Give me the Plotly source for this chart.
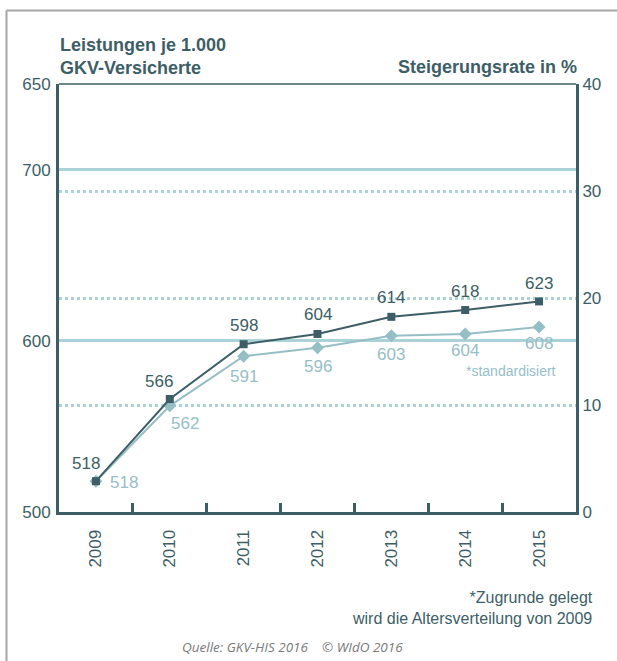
import plotly.graph_objects as go

# ---- data ----
years = ["2009", "2010", "2011", "2012", "2013", "2014", "2015"]
leistungen = [518, 566, 598, 604, 614, 618, 623]
leistungen_std = [518, 562, 591, 596, 603, 604, 608]

left_tickvals = [500, 600, 700, 750]
left_ticktext = ["500", "600", "700", "650"]
right_tickvals = [0, 10, 20, 30, 40]

DARK = "#3d5e66"
LIGHT = "#96bec5"
GRID = "#acd2d9"
FONT = "Liberation Sans, Arial, sans-serif"

W, H = 617, 661
L, R, T, B = 59, 41, 84, 149
PW, PH = W - L - R, H - T - B


def px_x(x):
    # page pixel -> paper x
    return (x - L) / PW


def px_y(y):
    # page pixel -> paper y
    return (H - B - y) / PH


fig = go.Figure()

# right axis carries only the dotted grid
fig.add_trace(
    go.Scatter(x=years, y=[None] * len(years), yaxis="y2",
               showlegend=False, hoverinfo="skip")
)

fig.add_trace(
    go.Scatter(
        x=years,
        y=leistungen_std,
        mode="lines+markers",
        line=dict(color=LIGHT, width=2),
        marker=dict(symbol="diamond", size=10, color=LIGHT),
        name="standardisiert",
        showlegend=False,
    )
)
fig.add_trace(
    go.Scatter(
        x=years,
        y=leistungen,
        mode="lines+markers",
        line=dict(color=DARK, width=2),
        marker=dict(symbol="square", size=8, color=DARK),
        name="Leistungen",
        showlegend=False,
    )
)

# value labels (dark above, light below)
dark_shift = [(-10, 18), (-11, 18), (0, 19), (0, 19), (0, 19), (0, 18), (0, 18)]
light_shift = [(28, -1), (15, -18), (0, -20), (0, -19), (0, -19), (0, -17), (0, -16)]
for i in range(len(years)):
    fig.add_annotation(
        x=i, y=leistungen[i], text=str(leistungen[i]), showarrow=False,
        xshift=dark_shift[i][0], yshift=dark_shift[i][1],
        font=dict(family=FONT, size=17, color=DARK),
    )
    fig.add_annotation(
        x=i, y=leistungen_std[i], text=str(leistungen_std[i]), showarrow=False,
        xshift=light_shift[i][0], yshift=light_shift[i][1],
        font=dict(family=FONT, size=17, color=LIGHT),
    )

fig.add_annotation(
    xref="paper", yref="paper", x=px_x(511), y=px_y(371), text="*standardisiert",
    xanchor="center", yanchor="middle",
    showarrow=False, font=dict(family=FONT, size=14, color=LIGHT),
)

# titles
fig.add_annotation(
    xref="paper", yref="paper", x=px_x(58), y=px_y(56), xanchor="left", yanchor="middle",
    align="left", showarrow=False,
    text="<b>Leistungen je 1.000<br>GKV-Versicherte</b>",
    font=dict(family=FONT, size=18, color=DARK),
)
fig.add_annotation(
    xref="paper", yref="paper", x=px_x(579), y=px_y(67), xanchor="right", yanchor="middle",
    showarrow=False, text="<b>Steigerungsrate in %</b>",
    font=dict(family=FONT, size=18, color=DARK),
)

# footnote and source
fig.add_annotation(
    xref="paper", yref="paper", x=px_x(595), y=px_y(608),
    xanchor="right", yanchor="middle", align="right", showarrow=False,
    text="*Zugrunde gelegt<br>wird die Altersverteilung von 2009",
    font=dict(family=FONT, size=16, color=DARK),
)
fig.add_annotation(
    xref="paper", yref="paper", x=px_x(292), y=px_y(647),
    xanchor="center", yanchor="middle", showarrow=False,
    text="<i>Quelle: GKV-HIS 2016&nbsp;&nbsp;&nbsp;&nbsp;© WIdO 2016</i>",
    font=dict(family="Open Sans, sans-serif", size=13.5, color="#7a7a7a"),
)

# top border of plot area and outer frame
fig.add_shape(type="line", xref="paper", yref="paper", x0=0, x1=1, y0=1, y1=1,
              line=dict(color=DARK, width=1.5))
fig.add_shape(type="line", xref="paper", yref="paper",
              x0=px_x(6.5), x1=px_x(W + 2), y0=px_y(10.5), y1=px_y(10.5),
              line=dict(color="#a6a6a6", width=2))
fig.add_shape(type="line", xref="paper", yref="paper",
              x0=px_x(6.5), x1=px_x(6.5), y0=px_y(10.5), y1=px_y(H + 2),
              line=dict(color="#a6a6a6", width=2))

fig.update_layout(
    width=W,
    height=H,
    margin=dict(l=L, r=R, t=T, b=B),
    paper_bgcolor="white",
    plot_bgcolor="white",
    font=dict(family=FONT, size=17, color=DARK),
    xaxis=dict(
        type="category",
        range=[-0.5, 6.5],
        tickson="boundaries",
        ticks="inside",
        ticklen=9,
        tickwidth=2.5,
        tickcolor=DARK,
        tickangle=-90,
        showline=True,
        linecolor=DARK,
        linewidth=3,
        showgrid=False,
        ticklabelstandoff=8,
        tickfont=dict(family=FONT, size=17, color=DARK),
        fixedrange=True,
    ),
    yaxis=dict(
        range=[500, 750],
        tickmode="array",
        tickvals=left_tickvals,
        ticktext=left_ticktext,
        showline=True,
        linecolor=DARK,
        linewidth=3,
        showgrid=True,
        gridcolor=GRID,
        gridwidth=2.5,
        zeroline=False,
        ticks="",
        ticklabelstandoff=2,
        tickfont=dict(family=FONT, size=17, color=DARK),
    ),
    yaxis2=dict(
        range=[0, 40],
        tickmode="array",
        tickvals=right_tickvals,
        overlaying="y",
        side="right",
        showline=True,
        linecolor=DARK,
        linewidth=3,
        showgrid=True,
        gridcolor=GRID,
        gridwidth=2.5,
        griddash="dot",
        zeroline=False,
        ticks="",
        tickfont=dict(family=FONT, size=17, color=DARK),
    ),
)

fig.write_html(
    "out.html",
    config={"displayModeBar": False},
    post_script="document.body.style.margin='0';document.body.style.overflow='hidden';",
)
